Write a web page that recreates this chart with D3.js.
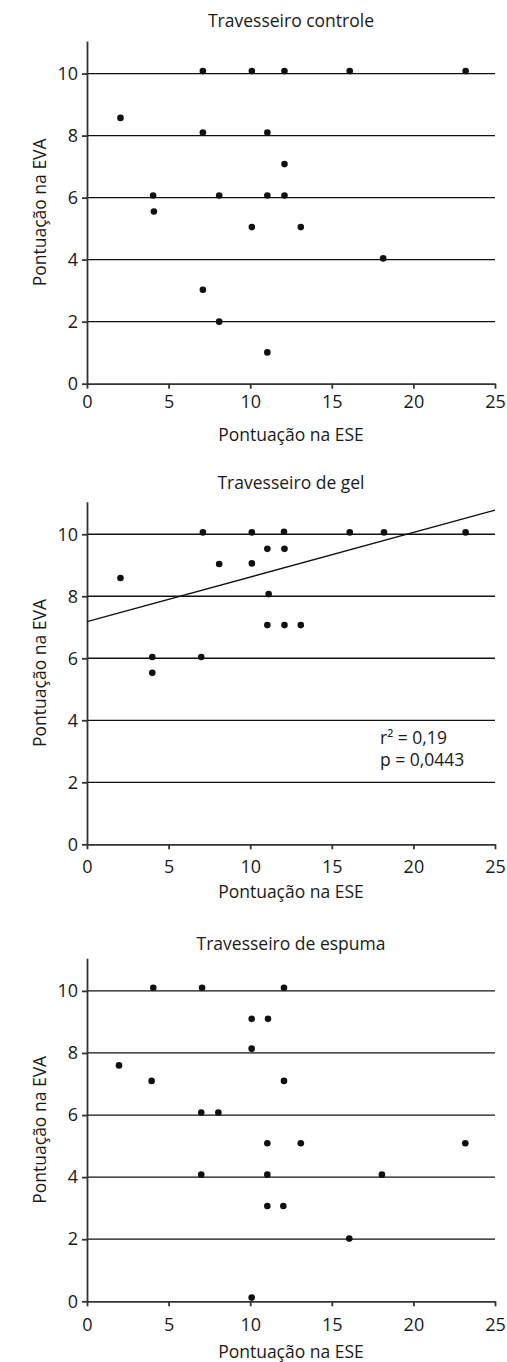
<!DOCTYPE html>
<html>
<head>
<meta charset="utf-8">
<script src="https://cdn.jsdelivr.net/npm/d3@7"></script>
<style>
  body { margin: 0; background: #fff; }
  svg { display: block; font-family: "Open Sans", sans-serif; }
  .grid line { stroke: #111; stroke-width: 1.3; }
  .axis path, .axis line { stroke: #333; stroke-width: 1.8; }
  .axis text { font-size: 18px; fill: #1a1a1a; font-family: "Open Sans", sans-serif; }
  .lbl { font-size: 17.5px; fill: #1a1a1a; }
</style>
</head>
<body>
<svg id="canvas" width="507" height="1362"></svg>
<script>
// values
let xTicks = [0, 5, 10, 15, 20, 25]
let yTicks = [0, 2, 4, 6, 8, 10]
let gridTicks = [2, 4, 6, 8, 10]

let titles = ['Travesseiro controle', 'Travesseiro de gel', 'Travesseiro de espuma']
let xLabel = 'Pontuação na ESE'
let yLabel = 'Pontuação na EVA'

let ctrlESE = [2.05, 7.1, 10.1, 12.1, 16.1, 23.2, 7.1, 11.05, 12.1, 4.05, 8.1, 11.05, 12.1, 4.1, 10.1, 13.1, 18.15, 7.1, 8.1, 11.05]
let ctrlEVA = [8.57, 10.08, 10.08, 10.08, 10.08, 10.08, 8.1, 8.1, 7.08, 6.07, 6.07, 6.07, 6.07, 5.55, 5.05, 5.05, 4.04, 3.03, 2.0, 1.01]

let gelESE = [2.05, 7.1, 10.1, 12.07, 16.1, 18.2, 23.2, 11.05, 12.1, 8.1, 10.1, 11.13, 11.05, 12.1, 13.1, 4.0, 7.0, 4.0]
let gelEVA = [8.59, 10.06, 10.06, 10.08, 10.06, 10.06, 10.06, 9.53, 9.53, 9.04, 9.06, 8.07, 7.07, 7.07, 7.07, 6.04, 6.04, 5.53]
let gelFit = [7.18, 0.144] // intercept, slope
let gelStats = ['r² = 0,19', 'p = 0,0443']

let espESE = [4.06, 7.05, 12.07, 10.09, 11.09, 10.09, 1.96, 3.96, 12.07, 7.0, 8.05, 11.05, 13.1, 23.18, 7.0, 11.05, 18.07, 11.05, 12.03, 16.07, 10.09]
let espEVA = [10.1, 10.1, 10.1, 9.1, 9.1, 8.14, 7.6, 7.1, 7.1, 6.08, 6.08, 5.09, 5.09, 5.09, 4.08, 4.08, 4.08, 3.07, 3.07, 2.02, 0.12]

let panels = [
    { title: titles[0], ese: ctrlESE, eva: ctrlEVA, top: 41, zero: 383.7, titleY: 20.7, tickY: 401.7, labelY: 435 },
    { title: titles[1], ese: gelESE, eva: gelEVA, top: 501.7, zero: 844.3, titleY: 483, tickY: 867, labelY: 891.7, fit: gelFit, stats: gelStats },
    { title: titles[2], ese: espESE, eva: espEVA, top: 958.3, zero: 1301.3, titleY: 944.3, tickY: 1324.3, labelY: 1352 }
]

let canvas = d3.select('#canvas')
let left = 87, right = 495

let drawPanel = (p) => {
    let xScale = d3.scaleLinear().domain([0, 25]).range([left, right])
    let yScale = d3.scaleLinear().domain([0, 11.05]).range([p.zero, p.top])
    let g = canvas.append('g')

    g.append('g')
        .attr('class', 'grid')
        .selectAll('line')
        .data(gridTicks)
        .enter()
        .append('line')
        .attr('x1', xScale(0))
        .attr('x2', xScale(25))
        .attr('y1', (d) => yScale(d))
        .attr('y2', (d) => yScale(d))

    let xAxis = d3.axisBottom(xScale).tickValues(xTicks).tickSize(5).tickSizeOuter(0)
    g.append('g')
        .attr('class', 'axis')
        .attr('transform', 'translate(0,' + p.zero + ')')
        .call(xAxis)
        .selectAll('text')
        .attr('y', p.tickY - p.zero)
        .attr('dy', '0.35em')

    let yAxis = d3.axisLeft(yScale).tickValues(yTicks).tickSize(5).tickPadding(4).tickSizeOuter(0)
    g.append('g')
        .attr('class', 'axis')
        .attr('transform', 'translate(' + left + ',0)')
        .call(yAxis)

    if (p.fit) {
        let line = d3.line()
            .x((d) => xScale(d))
            .y((d) => yScale(p.fit[0] + p.fit[1] * d))
        g.append('path')
            .datum([0, 25])
            .attr('d', line)
            .attr('fill', 'none')
            .attr('stroke', '#111')
            .attr('stroke-width', 1.3)

        g.selectAll('.stat')
            .data(p.stats)
            .enter()
            .append('text')
            .attr('class', 'lbl stat')
            .attr('x', 380)
            .attr('y', (d, i) => 738.3 + i * 22)
            .attr('dy', '0.35em')
            .text((d) => d)
    }

    g.selectAll('circle')
        .data(p.ese.map((d, i) => [d, p.eva[i]]))
        .enter()
        .append('circle')
        .attr('cx', (d) => xScale(d[0]))
        .attr('cy', (d) => yScale(d[1]))
        .attr('r', 3.3)
        .attr('fill', '#111')

    g.append('text')
        .attr('class', 'lbl')
        .attr('x', (left + right) / 2)
        .attr('y', p.titleY)
        .attr('dy', '0.35em')
        .attr('text-anchor', 'middle')
        .text(p.title)

    g.append('text')
        .attr('class', 'lbl')
        .attr('x', (left + right) / 2)
        .attr('y', p.labelY)
        .attr('dy', '0.35em')
        .attr('text-anchor', 'middle')
        .text(xLabel)

    g.append('text')
        .attr('class', 'lbl')
        .attr('transform', 'translate(40,' + (p.zero + p.top) / 2 + ') rotate(-90)')
        .attr('dy', '0.35em')
        .attr('text-anchor', 'middle')
        .text(yLabel)
}

panels.forEach(drawPanel)
</script>
</body>
</html>
